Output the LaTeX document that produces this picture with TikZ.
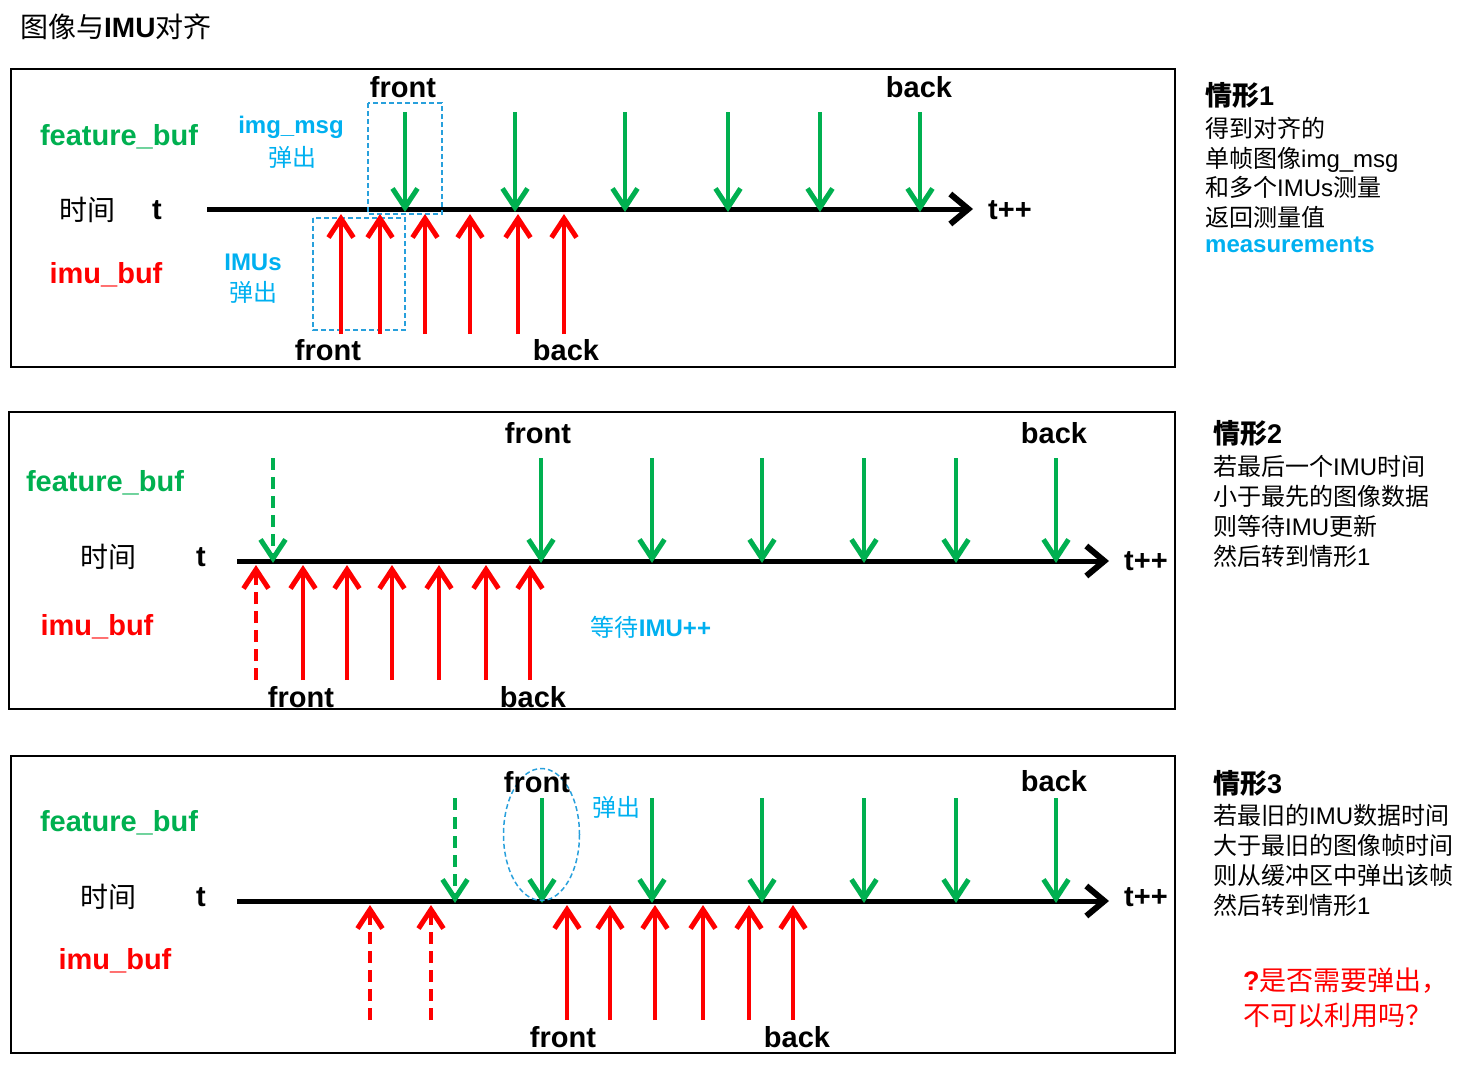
\documentclass[tikz,border=0pt]{standalone}
\usepackage{fontspec}
\setmainfont{Liberation Sans}
\newfontfamily\cjk{Noto Sans CJK SC}
\usetikzlibrary{arrows.meta}
\definecolor{bufgreen}{RGB}{0,176,80}
\definecolor{bufred}{RGB}{255,0,0}
\definecolor{popblue}{RGB}{0,176,240}
\definecolor{boxblue}{RGB}{40,160,220}
\newcommand{\zh}[1]{{\cjk #1}}
\tikzset{
  frame/.style={line width=2pt},
  axisline/.style={line width=5pt, -{Straight Barb[length=18pt,width=30pt,line width=6pt]}},
  greenarr/.style={bufgreen, line width=4pt, -{Straight Barb[length=19pt,width=25pt,line width=5pt]}},
  redarr/.style={bufred, line width=4pt, -{Straight Barb[length=19pt,width=25pt,line width=5pt]}},
  ghost/.style={dash pattern=on 12pt off 7pt},
  popbox/.style={boxblue, line width=1.5pt, dash pattern=on 5pt off 3pt},
  lbl/.style={font=\bfseries\fontsize{29}{29}\selectfont, inner sep=0pt},
  bufgreenlbl/.style={lbl, text=bufgreen},
  bufredlbl/.style={lbl, text=bufred},
  poplbl/.style={font=\fontsize{24}{24}\selectfont, text=popblue, inner sep=0pt},
  timelbl/.style={font=\fontsize{28}{28}\selectfont, inner sep=0pt},
  note/.style={font=\fontsize{24}{24}\selectfont, inner sep=0pt, anchor=base west},
  notehead/.style={font=\bfseries\fontsize{27}{27}\selectfont, inner sep=0pt, anchor=base west}
}
\begin{document}
\begin{tikzpicture}[x=1pt,y=-1pt]
\useasboundingbox (0,0) rectangle (1481,1073);
\node[font=\fontsize{28}{28}\selectfont, inner sep=0pt, anchor=base west] (title) at (20,38) {\zh{图像与}\textbf{IMU}\zh{对齐}};

% case 1
\draw[frame] (11,69) rectangle (1175,367);
\coordinate (ax1a) at (207,209);
\coordinate (ax1b) at (973,209);
\draw[axisline] (ax1a) -- (ax1b);
\node[lbl] (t1end) at (1010,210) {t++};
\node[timelbl] (time1) at (87,210) {\zh{时间}};
\node[lbl] (t1) at (157,210) {t};
\node[bufgreenlbl] (feat1) at (119,137) {feature\_buf};
\node[bufredlbl] (imu1) at (106,275) {imu\_buf};
\node[poplbl, font=\bfseries\fontsize{24}{24}\selectfont] (img1) at (291,127) {img\_msg};
\node[poplbl] (img1pop) at (292,157) {\zh{弹出}};
\node[poplbl, font=\bfseries\fontsize{24}{24}\selectfont] (imus1) at (253,262) {IMUs};
\node[poplbl] (imus1pop) at (253,292) {\zh{弹出}};
\draw[popbox] (368,103) rectangle (442,214);
\draw[popbox] (313,218) rectangle (405,330);
\foreach \x [count=\i] in {405,515,625,728,820,920} {
  \coordinate (f1s\i) at (\x,112);
  \coordinate (f1e\i) at (\x,212);
  \draw[greenarr] (f1s\i) -- (f1e\i);
}
\foreach \x [count=\i] in {341,380,425,470,518,564} {
  \coordinate (m1s\i) at (\x,334);
  \coordinate (m1e\i) at (\x,214);
  \draw[redarr] (m1s\i) -- (m1e\i);
}
\node[lbl] (f1front) at (403,87) {front};
\node[lbl] (f1back) at (919,87) {back};
\node[lbl] (m1front) at (328,350) {front};
\node[lbl] (m1back) at (566,350) {back};

% case 2
\draw[frame] (9,412) rectangle (1175,709);
\coordinate (ax2a) at (237,561);
\coordinate (ax2b) at (1109,561);
\draw[axisline] (ax2a) -- (ax2b);
\node[lbl] (t2end) at (1146,561) {t++};
\node[timelbl] (time2) at (108,557) {\zh{时间}};
\node[lbl] (t2) at (201,557) {t};
\node[bufgreenlbl] (feat2) at (105,483) {feature\_buf};
\node[bufredlbl] (imu2) at (97,627) {imu\_buf};
\node[poplbl] (wait2) at (651,627) {\zh{等待}\textbf{IMU++}};
\coordinate (f2s0) at (273,458);
\coordinate (f2e0) at (273,563);
\draw[greenarr, ghost] (f2s0) -- (f2e0);
\foreach \x [count=\i] in {541,652,762,864,956,1056} {
  \coordinate (f2s\i) at (\x,458);
  \coordinate (f2e\i) at (\x,563);
  \draw[greenarr] (f2s\i) -- (f2e\i);
}
\coordinate (m2s0) at (256,680);
\coordinate (m2e0) at (256,565);
\draw[redarr, ghost] (m2s0) -- (m2e0);
\foreach \x [count=\i] in {303,347,392,439,486,530} {
  \coordinate (m2s\i) at (\x,680);
  \coordinate (m2e\i) at (\x,565);
  \draw[redarr] (m2s\i) -- (m2e\i);
}
\node[lbl] (f2front) at (538,433) {front};
\node[lbl] (f2back) at (1054,433) {back};
\node[lbl] (m2front) at (301,697) {front};
\node[lbl] (m2back) at (533,697) {back};

% case 3
\draw[frame] (11,756) rectangle (1175,1053);
\coordinate (ax3a) at (237,901);
\coordinate (ax3b) at (1109,901);
\draw[axisline] (ax3a) -- (ax3b);
\node[lbl] (t3end) at (1146,897) {t++};
\node[timelbl] (time3) at (108,897) {\zh{时间}};
\node[lbl] (t3) at (201,897) {t};
\node[bufgreenlbl] (feat3) at (119,823) {feature\_buf};
\node[bufredlbl] (imu3) at (115,961) {imu\_buf};
\coordinate (f3s0) at (455,798);
\coordinate (f3e0) at (455,903);
\draw[greenarr, ghost] (f3s0) -- (f3e0);
\foreach \x [count=\i] in {542,652,762,864,956,1056} {
  \coordinate (f3s\i) at (\x,798);
  \coordinate (f3e\i) at (\x,903);
  \draw[greenarr] (f3s\i) -- (f3e\i);
}
\foreach \x [count=\i] in {370,431} {
  \coordinate (d3s\i) at (\x,1020);
  \coordinate (d3e\i) at (\x,905);
  \draw[redarr, ghost] (d3s\i) -- (d3e\i);
}
\foreach \x [count=\i] in {567,610,655,703,749,793} {
  \coordinate (m3s\i) at (\x,1020);
  \coordinate (m3e\i) at (\x,905);
  \draw[redarr] (m3s\i) -- (m3e\i);
}
\draw[popbox] (541.5,834.5) ellipse [x radius=38, y radius=66];
\node[lbl] (f3front) at (537,782) {front};
\node[poplbl] (f3pop) at (616,807) {\zh{弹出}};
\node[lbl] (f3back) at (1054,781) {back};
\node[lbl] (m3front) at (563,1037) {front};
\node[lbl] (m3back) at (797,1037) {back};

% notes
\node[notehead] (c1h) at (1205,105) {\zh{\bfseries 情形}1};
\node[note] (c1a) at (1205,137) {\zh{得到对齐的}};
\node[note] (c1b) at (1205,167) {\zh{单帧图像}img\_msg};
\node[note] (c1c) at (1205,196) {\zh{和多个}IMUs\zh{测量}};
\node[note] (c1d) at (1205,226) {\zh{返回测量值}};
\node[note, font=\bfseries\fontsize{24}{24}\selectfont, text=popblue] (c1e) at (1205,252) {measurements};

\node[notehead] (c2h) at (1213,443) {\zh{\bfseries 情形}2};
\node[note] (c2a) at (1213,475) {\zh{若最后一个}IMU\zh{时间}};
\node[note] (c2b) at (1213,505) {\zh{小于最先的图像数据}};
\node[note] (c2c) at (1213,535) {\zh{则等待}IMU\zh{更新}};
\node[note] (c2d) at (1213,565) {\zh{然后转到情形}1};

\node[notehead] (c3h) at (1213,793) {\zh{\bfseries 情形}3};
\node[note] (c3a) at (1213,824) {\zh{若最旧的}IMU\zh{数据时间}};
\node[note] (c3b) at (1213,854) {\zh{大于最旧的图像帧时间}};
\node[note] (c3c) at (1213,884) {\zh{则从缓冲区中弹出该帧}};
\node[note] (c3d) at (1213,914) {\zh{然后转到情形}1};

\node[note, font=\fontsize{27}{27}\selectfont, text=bufred] (ask1) at (1243,990) {\textbf{?}\zh{是否需要弹出，}};
\node[note, font=\fontsize{27}{27}\selectfont, text=bufred] (ask2) at (1243,1025) {\zh{不可以利用吗？}};
\end{tikzpicture}
\end{document}
